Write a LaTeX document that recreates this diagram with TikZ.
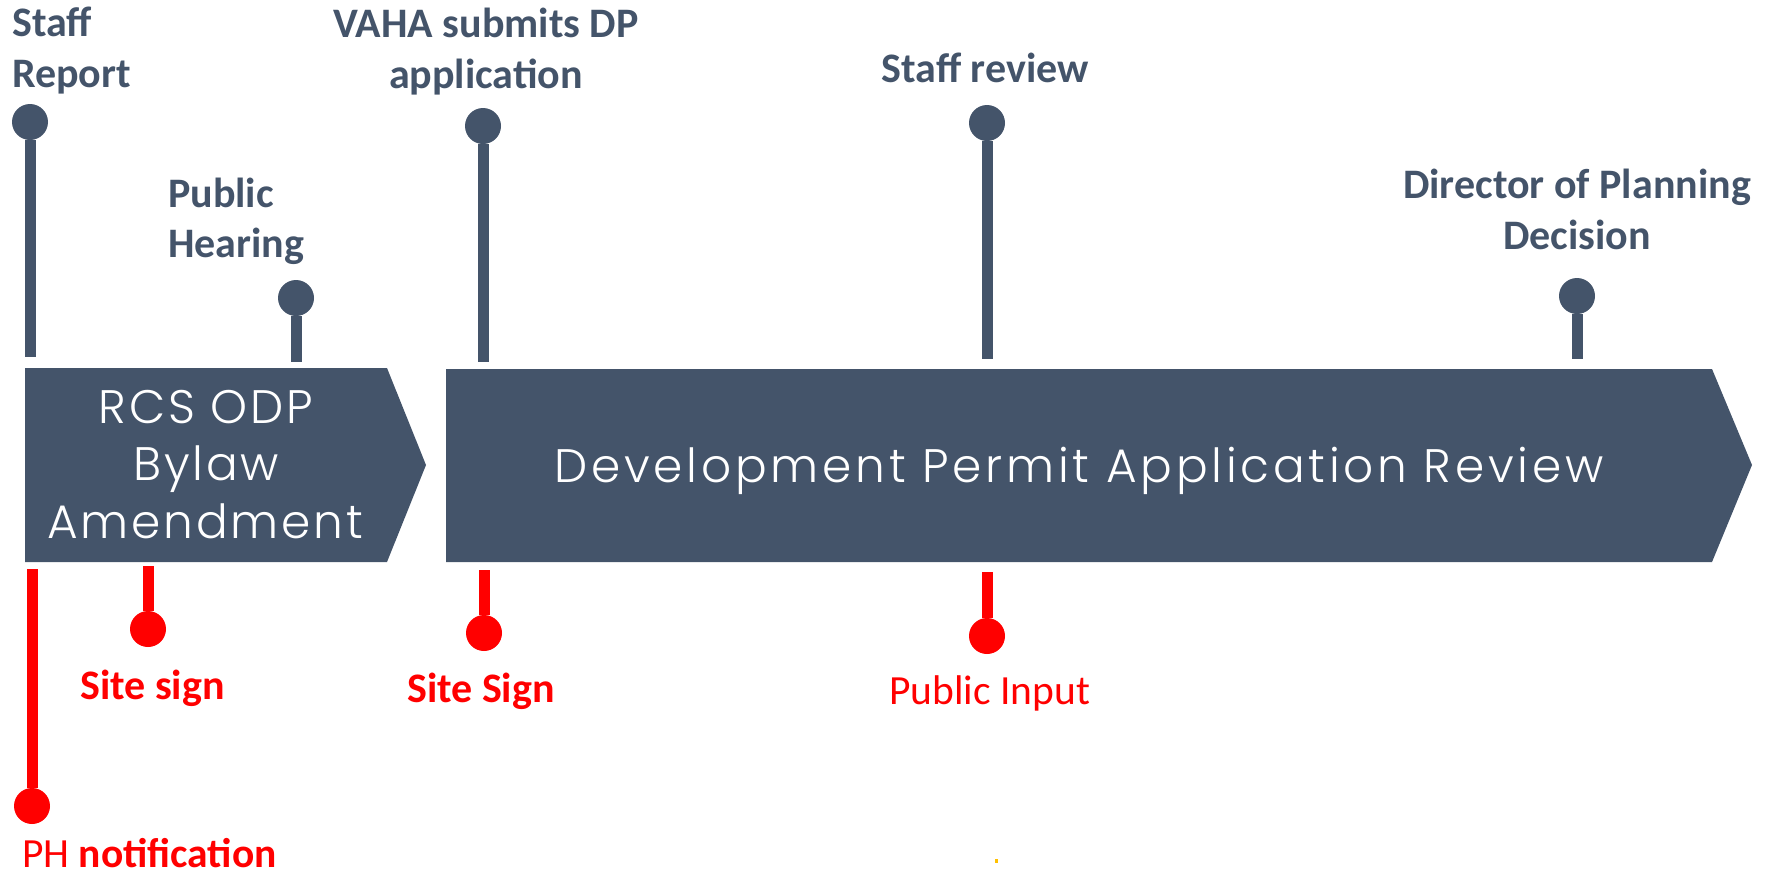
\documentclass[tikz,border=0pt]{standalone}
\usepackage{fontspec}
\setmainfont{Carlito}
\newfontfamily\boxfont[LetterSpace=6]{Poppins Light}
\definecolor{slate}{HTML}{44546A}
\definecolor{pinred}{HTML}{FF0000}
\definecolor{dotyellow}{HTML}{FFC000}
\begin{document}
\begin{tikzpicture}[x=1pt,y=-1pt,
  stem/.style={line width=11pt},
  grayhead/.style={circle,fill=slate,minimum size=36pt,inner sep=0pt},
  redhead/.style={circle,fill=pinred,minimum size=36pt,inner sep=0pt},
  lbl/.style={inner sep=0pt,font=\fontsize{42}{50}\selectfont\bfseries,text=slate},
  redlbl/.style={inner sep=0pt,font=\fontsize{42}{50}\selectfont\bfseries,text=pinred},
  redreg/.style={inner sep=0pt,font=\fontsize{41.5}{50}\selectfont,text=pinred},
  boxtxt/.style={inner sep=0pt,font=\boxfont\fontsize{47}{57}\selectfont,text=white},
]
\useasboundingbox (0,0) rectangle (1774,876);

% phase chevrons
\fill[slate] (25,368) -- (387,368) -- (426,465) -- (387,562) -- (25,562) -- cycle;
\fill[slate] (446,369) -- (1712,369) -- (1752,465) -- (1712,562) -- (446,562) -- cycle;

\node[boxtxt,anchor=base] (b1a) at (206,423) {RCS ODP};
\node[boxtxt,anchor=base] (b1b) at (206,480) {Bylaw};
\node[boxtxt,anchor=base] (b1c) at (205,538) {Amendment};
\node[boxtxt,anchor=base] (b2) at (1079,482) {\addfontfeature{LetterSpace=8}Development Permit Application Review};

% gray milestones (above)
\node[grayhead] (h1) at (30,122) {};
\coordinate (e1) at (30,357);
\draw[stem,slate] (h1) -- (e1);
\node[grayhead] (h2) at (296,298) {};
\coordinate (e2) at (296,362);
\draw[stem,slate] (h2) -- (e2);
\node[grayhead] (h3) at (483,126) {};
\coordinate (e3) at (483,362);
\draw[stem,slate] (h3) -- (e3);
\node[grayhead] (h4) at (987,123) {};
\coordinate (e4) at (987,359);
\draw[stem,slate] (h4) -- (e4);
\node[grayhead] (h5) at (1577,296) {};
\coordinate (e5) at (1577,359);
\draw[stem,slate] (h5) -- (e5);

% red milestones (below)
\node[redhead] (r1) at (32,806) {};
\coordinate (f1) at (32,569);
\draw[stem,pinred] (f1) -- (r1);
\node[redhead] (r2) at (148,629) {};
\coordinate (f2) at (148,566);
\draw[stem,pinred] (f2) -- (r2);
\node[redhead] (r3) at (484,633) {};
\coordinate (f3) at (484,570);
\draw[stem,pinred] (f3) -- (r3);
\node[redhead] (r4) at (987,636) {};
\coordinate (f4) at (987,572);
\draw[stem,pinred] (f4) -- (r4);

% labels
\node[lbl,anchor=base west] (l1a) at (12,36) {Staff};
\node[lbl,anchor=base west] (l1b) at (12,87) {Report};
\node[lbl,anchor=base west] (l2a) at (168,207) {Public};
\node[lbl,anchor=base west] (l2b) at (168,257) {Hearing};
\node[lbl,anchor=base] (l3a) at (486,37) {VAHA submits DP};
\node[lbl,anchor=base] (l3b) at (486,88) {application};
\node[lbl,anchor=base] (l4) at (985,82) {Staff review};
\node[lbl,anchor=base] (l5a) at (1577,198) {Director of Planning};
\node[lbl,anchor=base] (l5b) at (1577,249) {Decision};

\node[redlbl,anchor=base west] (m2) at (80,699) {Site sign};
\node[redlbl,anchor=base west] (m3) at (407,702) {Site Sign};
\node[redreg,anchor=base west] (m4) at (889,704) {Public Input};
\node[redreg,anchor=base west] (m1) at (22,867) {PH \textbf{notification}};

\fill[dotyellow] (995,859) rectangle (998,863);
\end{tikzpicture}
\end{document}
